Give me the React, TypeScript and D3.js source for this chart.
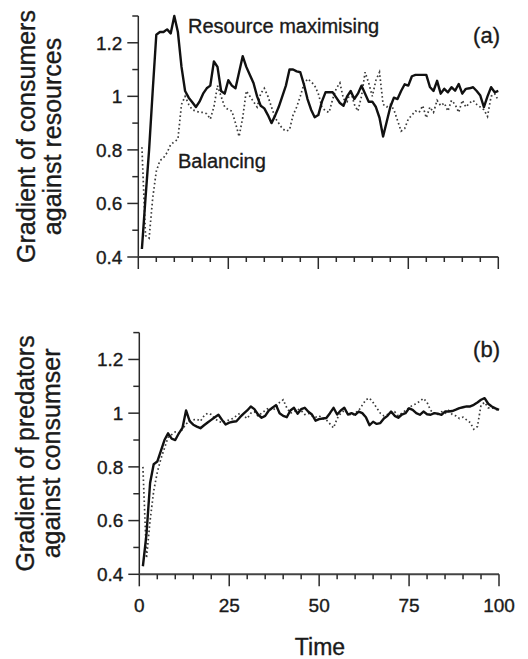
import React from "react";
import * as d3 from "d3";

const time = d3.range(1, 101);

const consumersMax = [
  0.43, 0.62, 0.80, 1.02, 1.23, 1.24, 1.24, 1.25, 1.235, 1.30,
  1.24, 1.11, 1.02, 0.995, 0.978, 0.96, 0.98, 1.01, 1.03, 1.04,
  1.13, 1.11, 1.02, 1.01, 1.06, 1.04, 1.03, 1.09, 1.15, 1.11,
  1.08, 1.05, 1.0, 0.965, 0.955, 0.93, 0.90, 0.928, 0.96, 1.0,
  1.04, 1.10, 1.10, 1.093, 1.09, 1.045, 0.99, 0.95, 0.922, 0.93,
  0.98, 1.015, 1.015, 1.015, 0.995, 0.975, 0.965, 1.0, 1.02, 0.99,
  1.01, 1.04, 1.01, 0.98, 0.98, 0.96, 0.92, 0.85, 0.905, 0.96,
  0.995, 0.99, 1.02, 1.045, 1.04, 1.075, 1.08, 1.08, 1.08, 1.08,
  1.035, 1.02, 1.058, 1.01, 1.028, 1.015, 1.034, 1.021, 1.046, 1.01,
  1.028, 1.03, 1.034, 1.02, 1.003, 0.96, 1.0, 1.034, 1.015, 1.02,
];

const consumersBal = [
  0.81, 0.48, 0.47, 0.62, 0.72, 0.76, 0.77, 0.79, 0.82, 0.83,
  0.84, 0.97, 1.0, 0.97, 0.95, 0.945, 0.94, 0.94, 0.935, 0.915,
  0.96, 1.04, 1.0, 0.96, 0.95, 0.945, 0.9, 0.85, 0.92, 1.02,
  1.0, 0.98, 0.96, 1.01, 1.03, 1.0, 0.96, 0.92, 0.9, 0.88,
  0.87, 0.875, 0.93, 0.96, 1.0, 1.045, 1.065, 1.055, 1.04, 1.01,
  0.96, 0.945, 0.94, 0.99, 1.03, 1.05, 0.99, 0.98, 1.02, 0.97,
  0.945, 1.0, 1.09, 1.05, 1.0, 1.06, 1.09, 0.97, 0.96, 0.97,
  0.95, 0.91, 0.87, 0.88, 0.915, 0.93, 0.945, 0.94, 0.965, 0.92,
  0.96, 0.94, 0.985, 0.965, 0.975, 0.945, 0.985, 0.97, 0.94, 0.985,
  0.96, 0.975, 0.985, 0.97, 0.96, 0.95, 0.925, 1.0, 1.01, 0.985,
];

const predatorsMax = [
  0.43, 0.55, 0.74, 0.81, 0.82, 0.86, 0.90, 0.925, 0.905, 0.9,
  0.925, 0.945, 1.01, 0.97, 0.957, 0.95, 0.944, 0.955, 0.965, 0.975,
  0.985, 0.994, 0.975, 0.958, 0.965, 0.968, 0.97, 0.985, 0.998, 1.01,
  1.025, 1.015, 0.995, 0.983, 0.99, 1.01, 1.02, 1.03, 1.0, 0.99,
  0.985, 1.01, 1.02, 0.998, 1.015, 1.02, 1.005, 0.995, 0.972, 0.978,
  0.98, 0.982, 1.0, 1.02, 0.995, 1.01, 1.02, 0.995, 1.0, 0.994,
  1.006, 1.0, 0.985, 0.955, 0.968, 0.96, 0.963, 0.98, 0.99, 1.006,
  0.99, 0.983, 0.995, 1.0, 1.018, 1.012, 1.0, 0.994, 1.006, 0.996,
  0.994, 1.0, 0.998, 0.994, 1.006, 1.006, 1.008, 1.013, 1.019, 1.022,
  1.025, 1.025, 1.031, 1.04, 1.05, 1.056, 1.035, 1.025, 1.018, 1.012,
];

const predatorsBal = [
  0.80, 0.46, 0.60, 0.71, 0.78, 0.83, 0.87, 0.91, 0.92, 0.93,
  0.925, 0.94, 0.96, 0.97, 0.975, 0.978, 0.97, 0.99, 1.0, 0.995,
  0.98, 0.97, 0.965, 0.97, 0.975, 0.98, 0.99, 1.0, 0.99, 0.98,
  1.0, 1.005, 0.99, 1.0, 1.01, 1.02, 1.01, 1.02, 1.04, 1.05,
  1.02, 1.0, 1.005, 1.015, 1.01, 0.995, 1.0, 0.99, 0.985, 0.99,
  0.98, 0.975, 0.96, 0.945, 0.98, 1.0, 1.01, 1.0, 0.99, 1.0,
  1.01, 1.03, 1.05, 1.056, 1.04, 1.02, 1.0, 0.99, 0.995, 1.0,
  1.005, 0.99, 1.0, 1.01, 1.02, 1.03, 1.035, 1.045, 1.055, 1.04,
  1.01, 1.0, 0.995, 1.005, 1.0, 1.01, 0.995, 0.99, 0.98, 0.985,
  0.975, 0.965, 0.94, 0.95, 1.03, 1.04, 1.02, 1.02, 1.015, 1.01,
];

const yMajorTicks = [0.4, 0.6, 0.8, 1.0, 1.2];
const yMajorLabels = ["0.4", "0.6", "0.8", "1", "1.2"];
const yMinorTicks = [0.5, 0.7, 0.9, 1.1, 1.3];
const xMajorTicks = [0, 25, 50, 75, 100];
const xMinorTicks = d3.range(0, 101, 5).filter((v) => v % 25 !== 0);

const FONT = "'Liberation Sans', Arial, Helvetica, sans-serif";
const TXT = { fontFamily: FONT, fill: "#1a1a1a", stroke: "#1a1a1a", strokeWidth: 0.35 };

type PanelProps = {
  x0: number;
  x1: number;
  yTop: number;
  yBottom: number;
  solid: number[];
  dotted: number[];
  titleLines: string[];
  titleX: number[];
  label: string;
  labelY: number;
  showXLabels: boolean;
  children?: React.ReactNode;
};

function Panel(p: PanelProps) {
  const x = d3.scaleLinear().domain([0, 100]).range([p.x0, p.x1]);
  const y = d3.scaleLinear().domain([0.4, 1.3]).range([p.yBottom, p.yTop]);
  const line = d3
    .line<number>()
    .x((_, i) => x(time[i]))
    .y((d) => y(d));
  const axisColor = "#2a2a2a";
  const yMid = (p.yTop + p.yBottom) / 2;
  return (
    <g>
      <path
        d={line(p.dotted) || ""}
        fill="none"
        stroke="#3a3a3a"
        strokeWidth={1.7}
        strokeDasharray="1.6 2.6"
      />
      <path
        d={line(p.solid) || ""}
        fill="none"
        stroke="#111"
        strokeWidth={2.4}
        strokeLinejoin="round"
      />
      <line x1={p.x0} x2={p.x0} y1={y(1.3)} y2={y(0.4)} stroke={axisColor} strokeWidth={1.5} />
      {yMajorTicks.map((t, i) => (
        <g key={"ym" + t}>
          <line x1={p.x0 - 11} x2={p.x0} y1={y(t)} y2={y(t)} stroke={axisColor} strokeWidth={1.5} />
          <text x={p.x0 - 16} y={y(t)} dy="0.36em" textAnchor="end" fontSize={19} {...TXT}>
            {yMajorLabels[i]}
          </text>
        </g>
      ))}
      {yMinorTicks.map((t) => (
        <line key={"yn" + t} x1={p.x0 - 6} x2={p.x0} y1={y(t)} y2={y(t)} stroke={axisColor} strokeWidth={1.5} />
      ))}
      <line x1={p.x0} x2={p.x1} y1={p.yBottom} y2={p.yBottom} stroke="#444" strokeWidth={2} />
      {xMajorTicks.map((t) => (
        <g key={"xm" + t}>
          <line x1={x(t)} x2={x(t)} y1={p.yBottom} y2={p.yBottom + 12} stroke={axisColor} strokeWidth={1.5} />
          {p.showXLabels && (
            <text x={x(t)} y={p.yBottom + 38} textAnchor="middle" fontSize={19} {...TXT}>
              {t}
            </text>
          )}
        </g>
      ))}
      {xMinorTicks.map((t) => (
        <line key={"xn" + t} x1={x(t)} x2={x(t)} y1={p.yBottom} y2={p.yBottom + 5} stroke={axisColor} strokeWidth={1.5} />
      ))}
      {p.titleLines.map((s, i) => (
        <text
          key={s}
          transform={`translate(${p.titleX[i]},${yMid}) rotate(-90)`}
          textAnchor="middle"
          fontSize={25}
          {...TXT}
        >
          {s}
        </text>
      ))}
      <text x={500} y={p.labelY} textAnchor="end" fontSize={22} {...TXT}>
        {p.label}
      </text>
      {p.children}
    </g>
  );
}

export default function App() {
  return (
    <svg width={528} height={659} style={{ position: "absolute", left: 0, top: 0, background: "#fff" }}>
      <rect width={528} height={659} fill="#fff" />
      <Panel
        x0={138.3}
        x1={498.3}
        yTop={16}
        yBottom={257}
        solid={consumersMax}
        dotted={consumersBal}
        titleLines={["Gradient of consumers", "against resources"]}
        titleX={[35, 61]}
        label="(a)"
        labelY={43}
        showXLabels={false}
      >
        <text x={188} y={33} fontSize={20} {...TXT}>
          Resource maximising
        </text>
        <text x={178} y={168} fontSize={20} {...TXT}>
          Balancing
        </text>
      </Panel>
      <Panel
        x0={139.3}
        x1={499}
        yTop={332.6}
        yBottom={574.3}
        solid={predatorsMax}
        dotted={predatorsBal}
        titleLines={["Gradient of predators", "against consumser"]}
        titleX={[34, 60]}
        label="(b)"
        labelY={357}
        showXLabels={true}
      />
      <text x={320} y={655} textAnchor="middle" fontSize={23} {...TXT}>
        Time
      </text>
    </svg>
  );
}
